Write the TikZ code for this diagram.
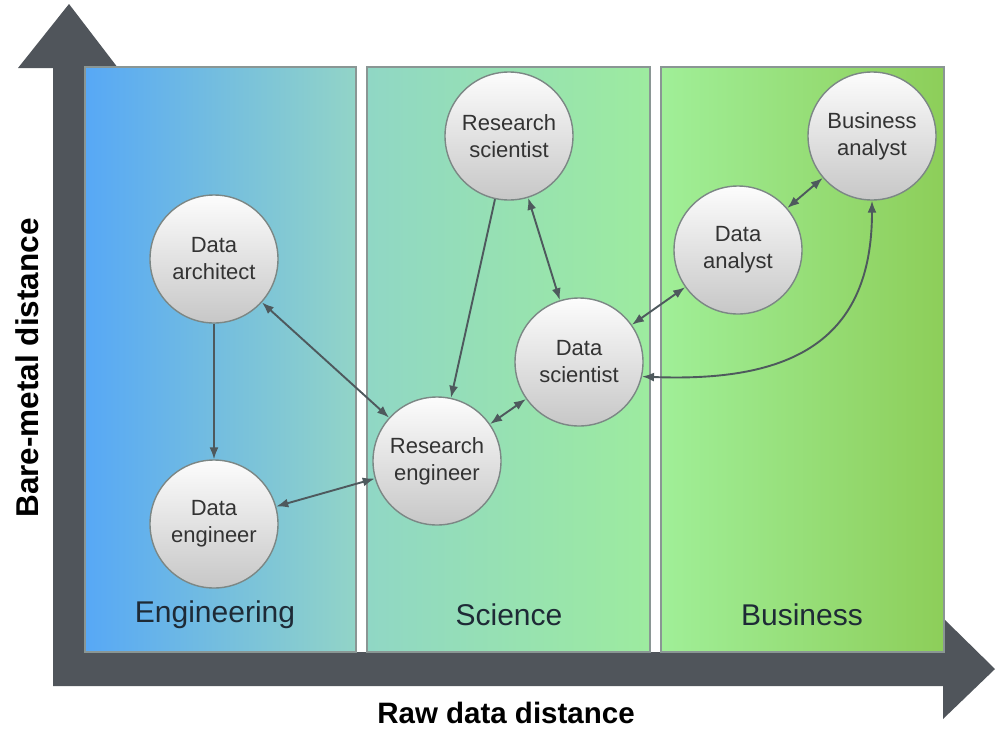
\documentclass[tikz,border=0pt]{standalone}
\usepackage{fontspec}
\setmainfont{Liberation Sans}
\usetikzlibrary{arrows.meta}
\definecolor{axisgray}{HTML}{50555B}
\definecolor{panelborder}{HTML}{8A9694}
\definecolor{engL}{HTML}{57A8F6}
\definecolor{engR}{HTML}{92D4C7}
\definecolor{sciL}{HTML}{90D7C5}
\definecolor{sciR}{HTML}{9DEB9F}
\definecolor{busL}{HTML}{A0EF98}
\definecolor{busR}{HTML}{8DCE59}
\definecolor{circborder}{HTML}{7C8785}
\definecolor{linkcol}{HTML}{4E595D}
\definecolor{labelcol}{HTML}{1E2A36}
\tikzset{
  role/.style={circle, minimum size=128pt, inner sep=0pt, draw=circborder, line width=1.4pt,
    top color=white!98!gray, bottom color=black!22, shading angle=0,
    align=center, text=black!80, font=\fontsize{22}{27}\selectfont},
  panel/.style={draw=panelborder, line width=1.2pt},
  panellabel/.style={text=labelcol, font=\fontsize{30}{36}\selectfont},
  xaxislabel/.style={text=black, font=\bfseries\fontsize{29.5}{34}\selectfont},
  yaxislabel/.style={text=black, font=\bfseries\fontsize{31.5}{36}\selectfont},
  link/.style={draw=linkcol, line width=1.9pt, -{Latex[length=12pt,width=9pt]}},
  blink/.style={draw=linkcol, line width=1.9pt, {Latex[length=12pt,width=9pt]}-{Latex[length=12pt,width=9pt]}}
}
\begin{document}
\begin{tikzpicture}[x=1pt,y=-1pt]
\useasboundingbox (0,0) rectangle (996,729);
% axes
\fill[axisgray] (53,686) -- (53,68) -- (18,68) -- (69,4) -- (118,68) -- (85,68) -- (85,652)
  -- (943,652) -- (943,618) -- (995,669) -- (943,719) -- (943,686) -- cycle;
% panels
\path[panel, left color=engL, right color=engR] (85,67) rectangle (356,652);
\path[panel, left color=sciL, right color=sciR] (367,67) rectangle (650,652);
\path[panel, left color=busL, right color=busR] (661,67) rectangle (944,652);
\node[panellabel] (lEng) at (215,615) {Engineering};
\node[panellabel] (lSci) at (509,615) {Science};
\node[panellabel] (lBus) at (802,615) {Business};
% axis labels
\node[xaxislabel] (xlab) at (506,713) {Raw data distance};
\node[yaxislabel, rotate=90] (ylab) at (27,368) {Bare-metal distance};
% roles
\node[role] (da) at (214,259) {Data\\architect};
\node[role] (de) at (214,524) {Data\\engineer};
\node[role] (rs) at (509,136) {Research\\scientist};
\node[role] (re) at (437,461) {Research\\engineer};
\node[role] (ds) at (579,362) {Data\\scientist};
\node[role] (dan) at (738,250) {Data\\analyst};
\node[role] (ba) at (872,136) {Business\\analyst};
% links
\draw[link] (da) -- (de);
\draw[blink] (da) -- (re);
\draw[blink] (de) -- (re);
\draw[link] (rs) -- (re);
\draw[blink] (rs) -- (ds);
\draw[blink] (re) -- (ds);
\draw[blink] (ds) -- (dan);
\draw[blink] (dan) -- (ba);
\draw[blink] (ds.-13) .. controls +(150,6) and +(0,140) .. (ba.south);
\end{tikzpicture}
\end{document}
